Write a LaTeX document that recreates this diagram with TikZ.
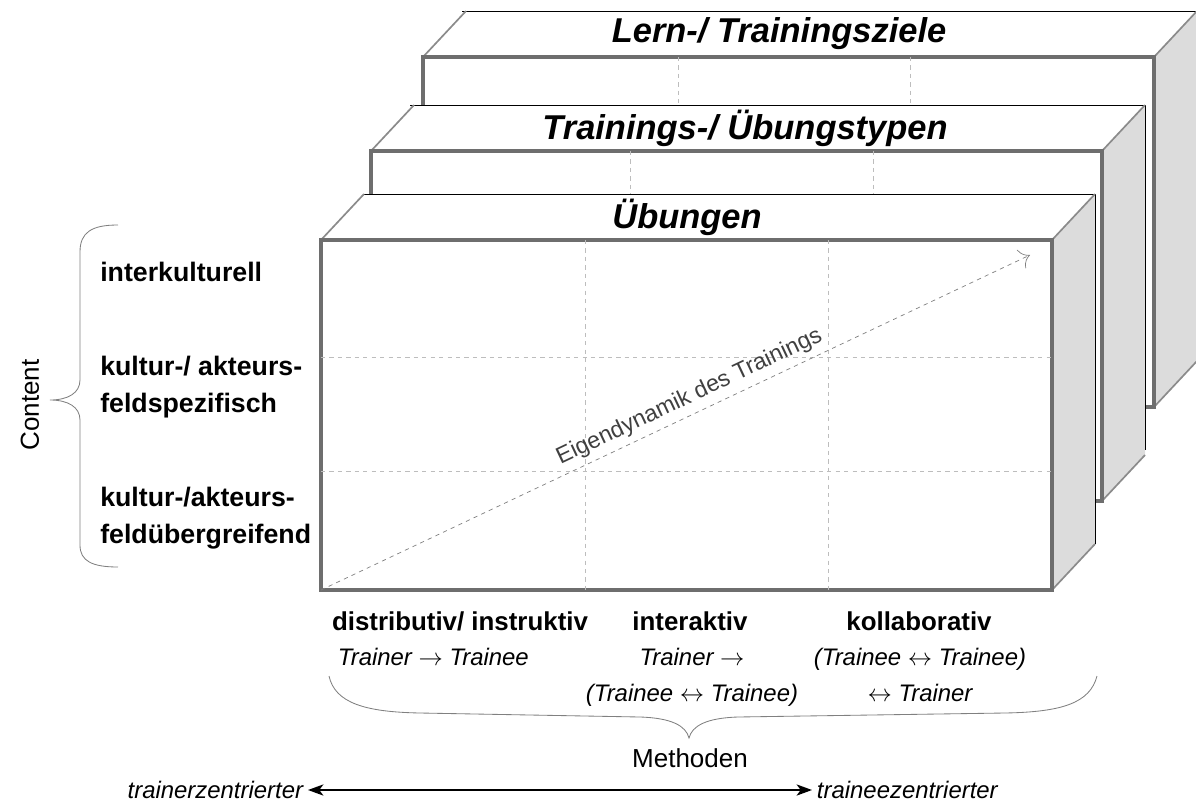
\documentclass[tikz,border=0pt]{standalone}
\usepackage{fontspec}
\setmainfont{Liberation Sans}
\usetikzlibrary{arrows.meta,calc}
\definecolor{sidegray}{HTML}{DCDCDC}
\definecolor{edgegray}{HTML}{6E6E6E}
\definecolor{gridgray}{HTML}{BDBDBD}

\tikzset{
  frontface/.style={draw=edgegray, line width=2.2pt, fill=white},
  topface/.style={fill=white},
  sideface/.style={fill=sidegray},
  softedge/.style={draw=edgegray!80, line width=1.2pt},
  backedge/.style={draw=black, line width=0.6pt},
  gridline/.style={draw=gridgray, dashed, line width=0.5pt},
  layertitle/.style={font=\fontsize{24.5}{28}\selectfont\bfseries\itshape},
  rowlabel/.style={font=\fontsize{19}{26.3}\selectfont\bfseries, align=left,
    anchor=west, inner sep=0pt},
  methlabel/.style={font=\fontsize{18.4}{21}\selectfont\bfseries},
  relation/.style={font=\fontsize{17}{25.6}\selectfont\itshape, align=center},
  axislabel/.style={font=\fontsize{18.5}{22}\selectfont},
  bracket/.style={draw=gray, line width=0.6pt}
}

\begin{document}
\begin{tikzpicture}[x=0.025cm, y=0.025cm]
      \useasboundingbox (0,0) rectangle (1196,-809);
      \coordinate (depth) at (43,46);

      % Lern-/ Trainingsziele
      \coordinate (lt) at (423,-57);
      \coordinate (rb) at ($(lt) + (731,-350)$);
      \coordinate (rt) at (rb |- lt);
      \coordinate (lb) at (lt |- rb);
      \fill [sideface] (rt) -- ($(rt) + (depth)$) -- ($(rb) + (depth)$) -- (rb) -- cycle;
      \draw [softedge] (rb) -- ($(rb) + (depth)$);
      \fill [topface] (lt) -- ($(lt) + (depth)$) -- ($(rt) + (depth)$) -- (rt) -- cycle;
      \draw [backedge] ($(lt) + (depth) + (-4,0)$) -- ($(rt) + (depth)$);
      \draw [softedge] (lt) -- ($(lt) + (depth)$);
      \draw [softedge] (rt) -- ($(rt) + (depth)$);
      \draw [frontface] (lt) rectangle (rb);
      \draw [gridline] ($(lt) + (255,0)$) -- ($(lb) + (255,0)$);
      \draw [gridline] ($(lt) + (487,0)$) -- ($(lb) + (487,0)$);
      \node [layertitle, name=ziele] at ($(lt) + (356,23)$) {Lern-/ Trainingsziele};

      % Trainings-/ Uebungstypen
      \coordinate (lt) at (371,-151);
      \coordinate (rb) at ($(lt) + (731,-350)$);
      \coordinate (rt) at (rb |- lt);
      \coordinate (lb) at (lt |- rb);
      \fill [sideface] (rt) -- ($(rt) + (depth)$) -- ($(rb) + (depth)$) -- (rb) -- cycle;
      \draw [backedge] ($(rt) + (depth)$) -- ($(rb) + (depth) + (0,5)$);
      \draw [softedge] (rb) -- ($(rb) + (depth)$);
      \fill [topface] (lt) -- ($(lt) + (depth)$) -- ($(rt) + (depth)$) -- (rt) -- cycle;
      \draw [backedge] ($(lt) + (depth) + (-4,0)$) -- ($(rt) + (depth)$);
      \draw [softedge] (lt) -- ($(lt) + (depth)$);
      \draw [softedge] (rt) -- ($(rt) + (depth)$);
      \draw [frontface] (lt) rectangle (rb);
      \draw [gridline] ($(lt) + (259,0)$) -- ($(lb) + (259,0)$);
      \draw [gridline] ($(lt) + (502,0)$) -- ($(lb) + (502,0)$);
      \node [layertitle, name=typen] at ($(lt) + (374,23)$) {Trainings-/ Übungstypen};

      % Uebungen
      \coordinate (lt) at (321,-240);
      \coordinate (rb) at ($(lt) + (731,-350)$);
      \coordinate (rt) at (rb |- lt);
      \coordinate (lb) at (lt |- rb);
      \fill [sideface] (rt) -- ($(rt) + (depth)$) -- ($(rb) + (depth)$) -- (rb) -- cycle;
      \draw [backedge] ($(rt) + (depth)$) -- ($(rb) + (depth)$);
      \draw [softedge] (rb) -- ($(rb) + (depth)$);
      \fill [topface] (lt) -- ($(lt) + (depth)$) -- ($(rt) + (depth)$) -- (rt) -- cycle;
      \draw [backedge] ($(lt) + (depth)$) -- ($(rt) + (depth)$);
      \draw [softedge] (lt) -- ($(lt) + (depth)$);
      \draw [softedge] (rt) -- ($(rt) + (depth)$);
      \draw [frontface] (lt) rectangle (rb);
      \draw [gridline] ($(lt) + (264,0)$) -- ($(lb) + (264,0)$);
      \draw [gridline] ($(lt) + (507,0)$) -- ($(lb) + (507,0)$);
      \draw [gridline] ($(lt) + (0,-117)$) -- ($(rt) + (0,-117)$);
      \draw [gridline] ($(lt) + (0,-231)$) -- ($(rt) + (0,-231)$);
      \node [layertitle, name=uebungen] at ($(lt) + (366,23)$) {Übungen};

      \coordinate (dyn) at ($(rt) + (-22,-15)$);
      \draw [-{To[length=7pt]}, gray, dashed, line width=0.5pt] (lb) -- (dyn)
        node [pos=0.53, sloped, above=1pt, font=\fontsize{16.5}{18}\selectfont,
        text=black!75, name=eigen] {Eigendynamik des Trainings};

      % Content
      \node [rowlabel, name=r1] at (100,-272) {interkulturell};
      \node [rowlabel, name=r2] at (100,-387) {kultur-/ akteurs-\\feldspezifisch};
      \node [rowlabel, name=r3] at (100,-518) {kultur-/akteurs-\\feldübergreifend};
      \node [axislabel, rotate=90, name=content] at (30,-405) {Content};
      \coordinate (ctip) at (50,-400);
      \draw [bracket] (118,-225) .. controls (92,-225) and (80,-232) .. (80,-252)
        -- (80,-380) .. controls (80,-393) and (68,-400) .. (ctip)
        .. controls (68,-400) and (80,-407) .. (80,-420)
        -- (80,-545) .. controls (80,-561) and (92,-567) .. (118,-567);

      % Methoden
      \node [methlabel, name=m1] at (460,-621) {distributiv/ instruktiv};
      \node [methlabel, name=m2] at (690,-621) {interaktiv};
      \node [methlabel, name=m3] at (919,-621) {kollaborativ};
      \node [relation, anchor=north west, name=d1] at (333,-643)
        {Trainer $\rightarrow$ Trainee};
      \node [relation, anchor=north, name=d2] at (692,-643)
        {Trainer $\rightarrow$\\(Trainee $\leftrightarrow$ Trainee)};
      \node [relation, anchor=north, name=d3] at (920,-643)
        {(Trainee $\leftrightarrow$ Trainee)\\$\leftrightarrow$ Trainer};
      \coordinate (mtip) at (689,-738);
      \draw [bracket] (329,-676) .. controls (335,-703) and (365,-712) .. (420,-713)
        -- (640,-717) .. controls (672,-718) and (686,-726) .. (mtip)
        .. controls (692,-726) and (706,-718) .. (738,-717)
        -- (1005,-713) .. controls (1062,-712) and (1090,-703) .. (1097,-676);
      \node [axislabel, name=methoden] at (690,-758) {Methoden};

      \node [relation, anchor=east, name=tz] at (308,-790) {trainerzentrierter};
      \node [relation, anchor=west, name=ez] at (812,-790) {traineezentrierter};
      \draw [{Stealth[length=11pt,width=8pt,inset=3pt]}-{Stealth[length=11pt,width=8pt,inset=3pt]},
        line width=1.1pt] (tz) -- (ez);
    \end{tikzpicture}
\end{document}
